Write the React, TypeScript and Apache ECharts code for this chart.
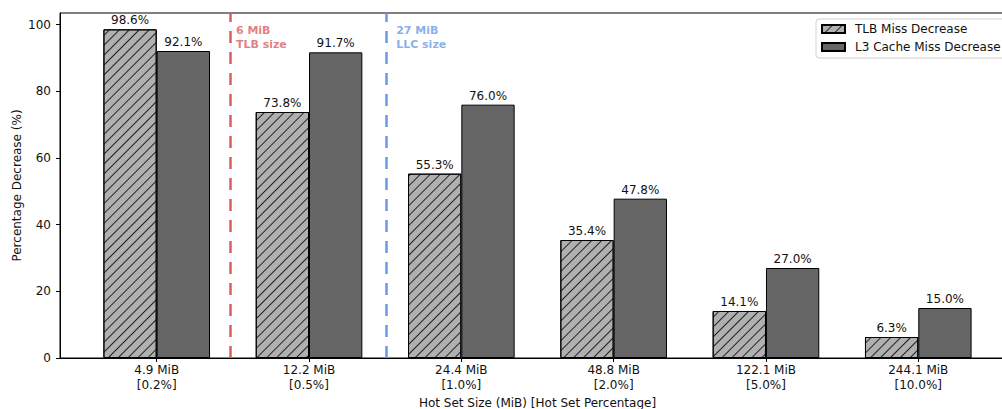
import React, { useEffect, useRef } from "react";
import * as echarts from "echarts";

const sizeLabels = ["4.9 MiB", "12.2 MiB", "24.4 MiB", "48.8 MiB", "122.1 MiB", "244.1 MiB"];
const percentLabels = ["[0.2%]", "[0.5%]", "[1.0%]", "[2.0%]", "[5.0%]", "[10.0%]"];
const tlbValues = [98.6, 73.8, 55.3, 35.4, 14.1, 6.3];
const l3Values = [92.1, 91.7, 76.0, 47.8, 27.0, 15.0];
const yTicks = [0, 20, 40, 60, 80, 100];
const markerLines = [
  { x: 0.477, textX: 0.52, textY: 96.3, text: "6 MiB\nTLB size", color: "#d9605f" },
  { x: 1.506, textX: 1.572, textY: 96.3, text: "27 MiB\nLLC size", color: "#6a9be6" },
];

const FONT = "DejaVu Sans";
const X_MIN = -0.635;
const X_MAX = 5.635;
const Y_MAX = 103.5;
const GRID_LEFT = 60;
const GRID_TOP = 13;
const GRID_WIDTH = 955;
const GRID_HEIGHT = 345;

export default function App() {
  const ref = useRef<HTMLDivElement>(null);
  useEffect(() => {
    document.body.style.margin = "0";
    const chart = echarts.init(ref.current!, null, { renderer: "svg" });
    const barPx = (0.35 * GRID_WIDTH) / (X_MAX - X_MIN);
    const labelStyle = {
      show: true,
      position: "top" as const,
      distance: 3,
      fontFamily: FONT,
      fontSize: 12,
      color: "#111",
      formatter: (p: any) => p.value[1].toFixed(1) + "%",
    };
    const option: any = {
      animation: false,
      textStyle: { fontFamily: FONT },
      grid: {
        left: GRID_LEFT,
        top: GRID_TOP,
        width: GRID_WIDTH,
        height: GRID_HEIGHT,
        outerBoundsMode: "none",
        containLabel: false,
        show: true,
        borderColor: "#000",
        borderWidth: 1,
        backgroundColor: "transparent",
      },
      legend: {
        left: 816,
        top: 19,
        orient: "vertical",
        data: ["TLB Miss Decrease", "L3 Cache Miss Decrease"],
        itemWidth: 23,
        itemHeight: 8,
        itemGap: 6,
        icon: "rect",
        padding: [4, 8, 5, 5],
        borderColor: "#d0d0d0",
        borderWidth: 1,
        borderRadius: 3,
        backgroundColor: "rgba(255,255,255,0.8)",
        textStyle: { fontFamily: FONT, fontSize: 12, color: "#111", padding: [0, 0, 0, 5] },
      },
      xAxis: {
        type: "value",
        min: X_MIN,
        max: X_MAX,
        name: "Hot Set Size (MiB) [Hot Set Percentage]",
        nameLocation: "middle",
        nameGap: 39,
        nameMoveOverlap: false,
        nameTextStyle: { fontFamily: FONT, fontSize: 12, color: "#111" },
        splitLine: { show: false },
        axisLine: { show: true, onZero: false, lineStyle: { color: "#000", width: 1 } },
        axisTick: { show: true, length: 4, customValues: sizeLabels.map((_, i) => i), lineStyle: { color: "#000" } },
        axisLabel: {
          customValues: sizeLabels.map((_, i) => i),
          formatter: (v: number) => {
            const i = Math.round(v);
            return sizeLabels[i] + "\n" + percentLabels[i];
          },
          margin: 4.5,
          fontFamily: FONT,
          fontSize: 12,
          lineHeight: 15,
          color: "#111",
        },
      },
      yAxis: {
        type: "value",
        min: 0,
        max: Y_MAX,
        name: "Percentage Decrease (%)",
        nameLocation: "middle",
        nameGap: 37,
        nameMoveOverlap: false,
        nameTextStyle: { fontFamily: FONT, fontSize: 12, color: "#111" },
        splitLine: { show: false },
        axisLine: { show: true, onZero: false, lineStyle: { color: "#000", width: 1 } },
        axisTick: { show: true, length: 4, customValues: yTicks, lineStyle: { color: "#000" } },
        axisLabel: {
          customValues: yTicks,
          margin: 9,
          fontFamily: FONT,
          fontSize: 12,
          color: "#111",
        },
      },
      series: [
        {
          name: "TLB Miss Decrease",
          type: "bar",
          barWidth: barPx,
          barGap: "0%",
          data: tlbValues.map((v, i) => [i, v]),
          itemStyle: {
            color: "#b0b0b0",
            borderColor: "#000",
            borderWidth: 1,
            decal: {
              symbol: "rect",
              symbolSize: 1,
              dashArrayX: [1, 0],
              dashArrayY: [1, 6],
              rotation: -Math.PI / 4,
              color: "#222",
            },
          },
          label: labelStyle,
        },
        {
          name: "L3 Cache Miss Decrease",
          type: "bar",
          barWidth: barPx,
          barGap: "0%",
          data: l3Values.map((v, i) => [i, v]),
          itemStyle: { color: "#666666", borderColor: "#000", borderWidth: 1 },
          label: labelStyle,
        },
        ...markerLines.map((m) => ({
          name: m.text,
          type: "scatter",
          symbolSize: 0,
          silent: true,
          data: [[m.textX, m.textY]],
          label: {
            show: true,
            position: "right",
            distance: 0,
            formatter: m.text,
            color: m.color,
            fontFamily: FONT,
            fontSize: 11,
            fontWeight: "bold",
            lineHeight: 14,
            align: "left",
          },
          markLine: {
            silent: true,
            symbol: ["none", "none"],
            label: { show: false },
            emphasis: { disabled: true },
            lineStyle: { color: m.color, width: 2.5, type: [12, 9], opacity: 1 },
            data: [{ xAxis: m.x }],
          },
        })),
      ],
    };
    chart.setOption(option);
    return () => chart.dispose();
  }, []);
  return <div ref={ref} style={{ width: 1002, height: 409 }} />;
}
